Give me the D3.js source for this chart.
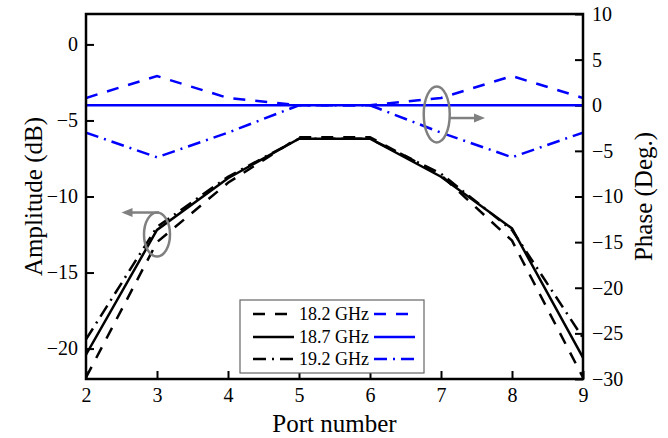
<!DOCTYPE html>
<html>
<head>
<meta charset="utf-8">
<script src="https://cdn.jsdelivr.net/npm/d3@7"></script>
<style>
  body { margin: 0; background: #fff; }
  svg { display: block; }
</style>
</head>
<body>
<svg id="chart" width="668" height="438"></svg>
<script>
// Port index along the array
const ports = [2, 3, 4, 5, 6, 7, 8, 9];
const freqLabels = ["18.2 GHz", "18.7 GHz", "19.2 GHz"];

// Amplitude (dB) per port
const amp182 = [-21.9, -13.0, -9.1, -6.1, -6.1, -8.6, -12.9, -21.9];
const amp187 = [-20.4, -12.2, -8.8, -6.2, -6.2, -8.7, -12.1, -20.6];
const amp192 = [-19.4, -12.0, -8.7, -6.2, -6.2, -8.5, -12.2, -19.3];

// Phase (deg.) per port
const phase182 = [0.8, 3.2, 0.8, 0, 0, 0.8, 3.2, 0.8];
const phase187 = [0, 0, 0, 0, 0, 0, 0, 0];
const phase192 = [-3.0, -5.7, -3.0, 0, 0, -3.0, -5.7, -3.0];

// Axis ticks
const xTicks = [2, 3, 4, 5, 6, 7, 8, 9];
const ampTicks = [0, -5, -10, -15, -20];
const phaseTicks = [10, 5, 0, -5, -10, -15, -20, -25, -30];

const FONT = "Liberation Serif";
const plot = { left: 86, right: 583, top: 14, bottom: 379 };

const svg = d3.select("#chart").attr("font-family", FONT);

const x = d3.scaleLinear().domain([2, 9]).range([plot.left, plot.right]);
const yA = d3.scaleLinear().domain([-22, 2]).range([plot.bottom, plot.top]);
const yP = d3.scaleLinear().domain([-30, 10]).range([plot.bottom, plot.top]);

const dashStyles = { dash: "12,10", solid: null, dashdot: "13,6,2,6" };
const styleKeys = ["dash", "solid", "dashdot"];

// Axes with inward ticks
function styleAxis(g) {
  g.attr("font-family", FONT).attr("font-size", 20);
  g.select(".domain").remove();
  g.selectAll(".tick line").attr("stroke", "#000").attr("stroke-width", 2);
  g.selectAll(".tick text").attr("font-family", FONT).attr("font-size", 20).attr("fill", "#000");
}

svg.append("g")
  .attr("transform", `translate(0,${plot.bottom})`)
  .call(d3.axisBottom(x).tickValues(xTicks).tickFormat(d3.format("d"))
    .tickSizeInner(-8).tickSizeOuter(0).tickPadding(9))
  .call(styleAxis);

svg.append("g")
  .attr("transform", `translate(${plot.left},0)`)
  .call(d3.axisLeft(yA).tickValues(ampTicks).tickFormat(d3.format("d"))
    .tickSizeInner(-8).tickSizeOuter(0).tickPadding(8))
  .call(styleAxis);

svg.append("g")
  .attr("transform", `translate(${plot.right},0)`)
  .call(d3.axisRight(yP).tickValues(phaseTicks).tickFormat(d3.format("d"))
    .tickSizeInner(-8).tickSizeOuter(0).tickPadding(9))
  .call(styleAxis);

// Clip region for the curves
svg.append("clipPath").attr("id", "plot-clip")
  .append("rect")
  .attr("x", plot.left).attr("y", plot.top)
  .attr("width", plot.right - plot.left).attr("height", plot.bottom - plot.top);

const curves = svg.append("g").attr("clip-path", "url(#plot-clip)");

const ampSeries = [amp182, amp187, amp192];
const phaseSeries = [phase182, phase187, phase192];

const ampLine = d3.line().x((d, i) => x(ports[i])).y(d => yA(d));
const phaseLine = d3.line().x((d, i) => x(ports[i])).y(d => yP(d));

ampSeries.forEach((s, k) => {
  curves.append("path")
    .attr("d", ampLine(s))
    .attr("fill", "none")
    .attr("stroke", "#000")
    .attr("stroke-width", 2.5)
    .attr("stroke-dasharray", dashStyles[styleKeys[k]]);
});

phaseSeries.forEach((s, k) => {
  curves.append("path")
    .attr("d", phaseLine(s))
    .attr("fill", "none")
    .attr("stroke", "#0000ff")
    .attr("stroke-width", 2.5)
    .attr("stroke-dasharray", dashStyles[styleKeys[k]]);
});

// Frame
svg.append("rect")
  .attr("x", plot.left).attr("y", plot.top)
  .attr("width", plot.right - plot.left).attr("height", plot.bottom - plot.top)
  .attr("fill", "none").attr("stroke", "#000").attr("stroke-width", 2.5);

// Axis titles
svg.append("text")
  .attr("transform", `translate(33,${(plot.top + plot.bottom) / 2}) rotate(-90)`)
  .attr("text-anchor", "middle")
  .attr("dominant-baseline", "central")
  .attr("font-family", FONT).attr("font-size", 25)
  .text("Amplitude (dB)");

svg.append("text")
  .attr("transform", `translate(643,${(plot.top + plot.bottom) / 2}) rotate(-90)`)
  .attr("text-anchor", "middle")
  .attr("dominant-baseline", "central")
  .attr("font-family", FONT).attr("font-size", 25)
  .text("Phase (Deg.)");

svg.append("text")
  .attr("x", (plot.left + plot.right) / 2)
  .attr("y", 432)
  .attr("text-anchor", "middle")
  .attr("font-family", FONT).attr("font-size", 25)
  .text("Port number");

// Callouts pointing each group of curves to its axis
const gray = "#808080";
function arrowHead(g, tipX, tipY, dir) {
  const len = 11, half = 4.5;
  g.append("path")
    .attr("d", `M${tipX},${tipY} L${tipX - dir * len},${tipY - half} L${tipX - dir * len},${tipY + half} Z`)
    .attr("fill", gray);
}

const ann = svg.append("g");
// amplitude callout -> left axis
const c1 = { cx: x(3.0), cy: yA(-12.5), rx: 13, ry: 22 };
ann.append("ellipse").attr("cx", c1.cx).attr("cy", c1.cy).attr("rx", c1.rx).attr("ry", c1.ry)
  .attr("fill", "none").attr("stroke", gray).attr("stroke-width", 2.5);
const tip1 = x(2.5);
ann.append("line").attr("x1", c1.cx + 2).attr("y1", c1.cy - c1.ry).attr("x2", tip1 + 8).attr("y2", c1.cy - c1.ry)
  .attr("stroke", gray).attr("stroke-width", 2.5);
arrowHead(ann, tip1, c1.cy - c1.ry, -1);

// phase callout -> right axis
const c2 = { cx: x(6.94), cy: yP(-1.0), rx: 13, ry: 28 };
ann.append("ellipse").attr("cx", c2.cx).attr("cy", c2.cy).attr("rx", c2.rx).attr("ry", c2.ry)
  .attr("fill", "none").attr("stroke", gray).attr("stroke-width", 2.5);
const tip2 = x(7.62);
ann.append("line").attr("x1", c2.cx + c2.rx).attr("y1", yP(-1.4)).attr("x2", tip2 - 8).attr("y2", yP(-1.4))
  .attr("stroke", gray).attr("stroke-width", 2.5);
arrowHead(ann, tip2, yP(-1.4), 1);

// Legend
const lg = svg.append("g");
lg.append("rect")
  .attr("x", 240).attr("y", 300).attr("width", 184).attr("height", 73)
  .attr("fill", "#fff").attr("stroke", "#666").attr("stroke-width", 1.2);
const rowY = [314, 337, 359];
freqLabels.forEach((lab, k) => {
  const y = rowY[k];
  lg.append("line").attr("x1", 253).attr("x2", 294).attr("y1", y).attr("y2", y)
    .attr("stroke", "#000").attr("stroke-width", 2.5)
    .attr("stroke-dasharray", dashStyles[styleKeys[k]]);
  lg.append("text").attr("x", 299).attr("y", y).attr("dominant-baseline", "central")
    .attr("font-family", FONT).attr("font-size", 18).text(lab);
  lg.append("line").attr("x1", 374).attr("x2", 415).attr("y1", y).attr("y2", y)
    .attr("stroke", "#0000ff").attr("stroke-width", 2.5)
    .attr("stroke-dasharray", dashStyles[styleKeys[k]]);
});
</script>
</body>
</html>
